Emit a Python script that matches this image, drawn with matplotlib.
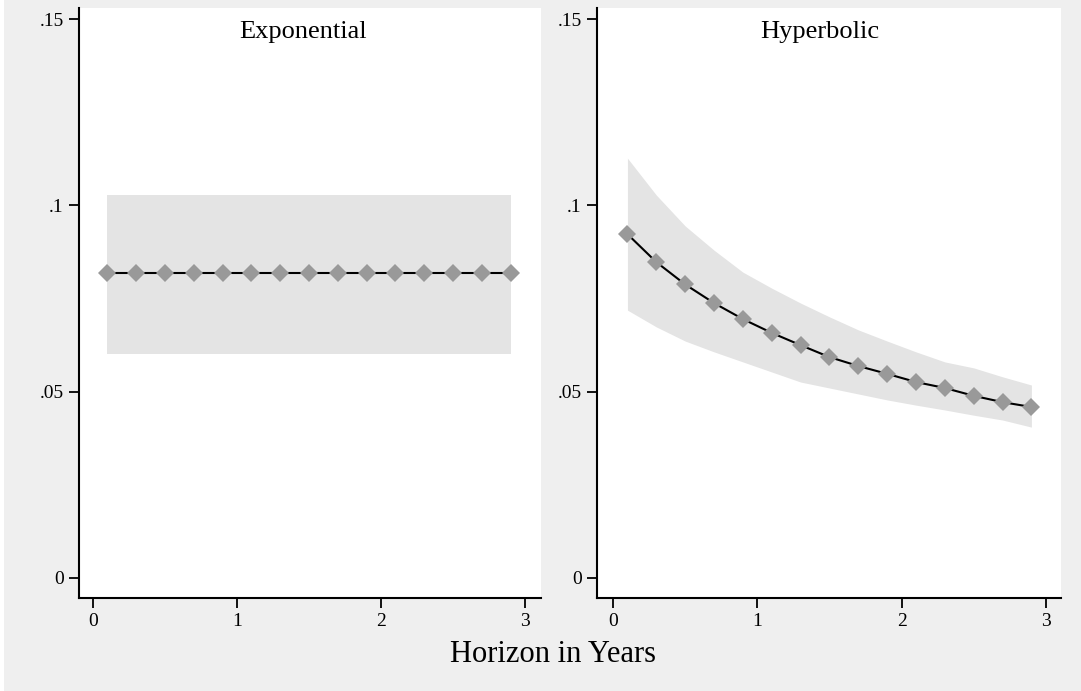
import matplotlib
matplotlib.use('Agg')
import matplotlib.pyplot as plt
from matplotlib.patches import Rectangle

plt.rcParams['font.family'] = ['Liberation Serif', 'DejaVu Serif']

# horizon grid (years)
horizon = [0.1, 0.3, 0.5, 0.7, 0.9, 1.1, 1.3, 1.5, 1.7, 1.9, 2.1, 2.3, 2.5, 2.7, 2.9]

# exponential: constant rate and its band
exp_rate = [0.0819] * 15
exp_hi = [0.1028] * 15
exp_lo = [0.0601] * 15

# hyperbolic: declining rate and its band
hyp_rate = [0.0923, 0.0848, 0.0788, 0.0738, 0.0695, 0.0658, 0.0625, 0.0593,
            0.0569, 0.0548, 0.0526, 0.0510, 0.0489, 0.0472, 0.0459]
hyp_hi = [0.1127, 0.1028, 0.0945, 0.0880, 0.0821, 0.0778, 0.0738, 0.0701,
          0.0666, 0.0636, 0.0607, 0.0580, 0.0564, 0.0540, 0.0518]
hyp_lo = [0.0719, 0.0674, 0.0636, 0.0607, 0.0580, 0.0553, 0.0526, 0.0510,
          0.0494, 0.0478, 0.0464, 0.0451, 0.0437, 0.0424, 0.0405]

titles = ['Exponential', 'Hyperbolic']
yticks = [0, 0.05, 0.1, 0.15]
yticklabels = ['0', '.05', '.1', '.15']
xticks = [0, 1, 2, 3]

fig = plt.figure(figsize=(10.81, 6.91), dpi=100, facecolor='#efefef')
fig.patches.append(Rectangle((0, 0), 4 / 1081, 1, transform=fig.transFigure,
                             facecolor='white', edgecolor='none', zorder=-10))

ax1 = fig.add_axes([79 / 1081, 93 / 691, 462 / 1081, 590 / 691])
ax2 = fig.add_axes([597 / 1081, 93 / 691, 464 / 1081, 590 / 691])

panels = [(ax1, exp_rate, exp_hi, exp_lo, (-0.097, 3.111), 0.485),
          (ax2, hyp_rate, hyp_hi, hyp_lo, (-0.111, 3.105), 0.48)]

for (ax, rate, hi, lo, xl, tx), title in zip(panels, titles):
    ax.set_facecolor('white')
    ax.fill_between(horizon, lo, hi, color='#e4e4e4', linewidth=0, zorder=1)
    ax.plot(horizon, rate, color='black', linewidth=1.5, zorder=2)
    ax.plot(horizon, rate, linestyle='none', marker='D', markersize=9,
            color='#999999', markeredgewidth=0, zorder=3)
    ax.set_xlim(*xl)
    ax.set_ylim(-0.00537, 0.153)
    ax.set_yticks(yticks)
    ax.set_yticklabels(yticklabels)
    ax.set_xticks(xticks)
    for s in ['top', 'right']:
        ax.spines[s].set_visible(False)
    for s in ['left', 'bottom']:
        ax.spines[s].set_linewidth(1.5)
    ax.tick_params(direction='out', length=7, width=1.3, labelsize=14, pad=4)
    ax.text(tx, 0.978, title, transform=ax.transAxes, ha='center', va='top',
            fontsize=19)

fig.text(553 / 1081, 1 - 654 / 691, 'Horizon in Years', ha='center',
         va='center', fontsize=22)

fig.savefig('out.png', dpi=100, facecolor=fig.get_facecolor())
